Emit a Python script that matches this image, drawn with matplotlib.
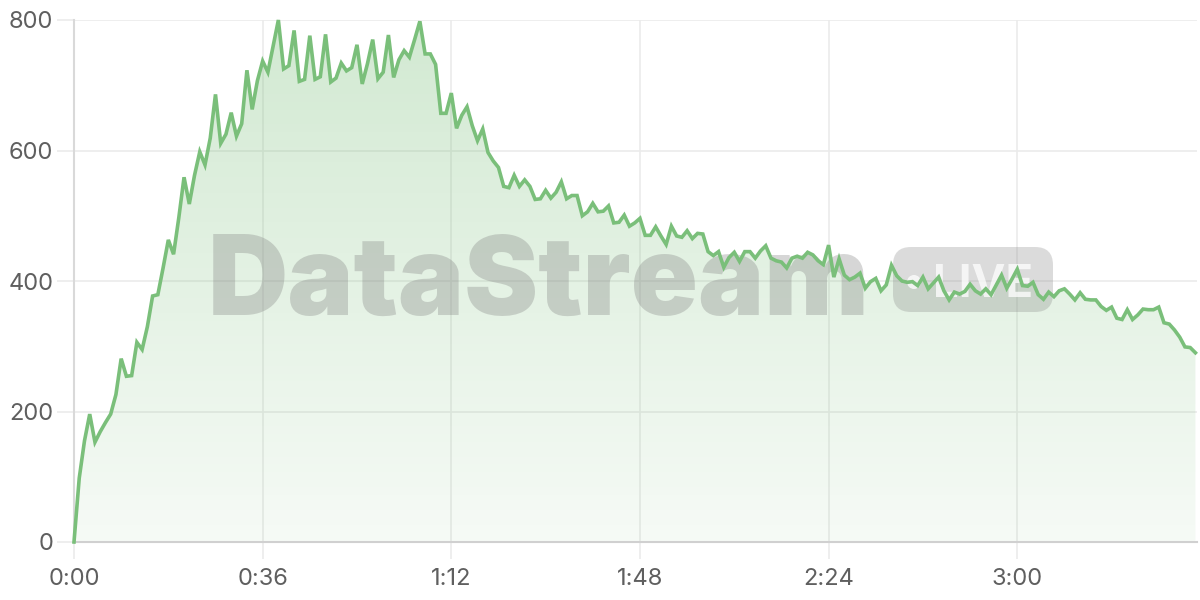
import numpy as np
import matplotlib
matplotlib.use('Agg')
import matplotlib.pyplot as plt
from matplotlib.patches import FancyBboxPatch, Circle
from matplotlib.transforms import IdentityTransform

# one value per second
values = [0, 98, 155, 196, 153, 169, 183, 196, 226, 281,
          254, 255, 306, 295, 330, 377, 379, 420, 463, 441,
          497, 559, 518, 562, 598, 578, 619, 686, 611, 625,
          658, 622, 641, 723, 663, 707, 737, 720, 760, 800,
          725, 730, 784, 706, 709, 776, 709, 713, 778, 705,
          711, 734, 722, 727, 762, 702, 733, 770, 710, 720,
          777, 712, 739, 753, 743, 770, 798, 748, 748, 732,
          657, 657, 688, 634, 654, 667, 638, 615, 633, 597,
          584, 574, 545, 543, 562, 545, 555, 545, 525, 526,
          539, 527, 536, 552, 526, 531, 531, 500, 506, 519,
          506, 507, 515, 489, 490, 501, 484, 489, 496, 470,
          470, 483, 469, 456, 484, 469, 467, 477, 465, 473,
          472, 445, 439, 445, 421, 436, 444, 430, 445, 445,
          435, 446, 454, 435, 431, 429, 420, 435, 438, 435,
          444, 440, 431, 425, 455, 406, 434, 409, 402, 406,
          412, 389, 399, 404, 385, 394, 424, 408, 400, 398,
          399, 393, 406, 388, 397, 406, 385, 371, 383, 380,
          384, 395, 385, 380, 388, 379, 394, 409, 389, 403,
          418, 393, 392, 398, 379, 372, 383, 376, 385, 388,
          380, 371, 382, 372, 371, 371, 361, 355, 360, 343,
          341, 356, 341, 348, 357, 356, 356, 360, 336, 334,
          325, 314, 299, 298, 290]
seconds = np.arange(len(values))
tick_secs = [0, 36, 72, 108, 144, 180]
tick_labels = ['0:00', '0:36', '1:12', '1:48', '2:24', '3:00']
y_ticks = [0, 200, 400, 600, 800]

green = (0.48, 0.75, 0.48)
grid_c = '#ebebeb'
x_max = 214.3

plt.rcParams['font.family'] = ['Inter', 'Roboto', 'DejaVu Sans']
fig = plt.figure(figsize=(12, 6), dpi=100)
ax = fig.add_axes([74/1200, 58/600, (1197-74)/1200, (542-20)/600])

ax.set_xlim(0, x_max)
ax.set_ylim(0, 800)

# gradient fill under the line
poly = ax.fill_between(seconds, values, 0, color='none', lw=0)
grad = np.zeros((256, 1, 4))
grad[:, 0, 0] = green[0]
grad[:, 0, 1] = green[1]
grad[:, 0, 2] = green[2]
grad[:, 0, 3] = np.linspace(0.07, 0.34, 256)
img = ax.imshow(grad, extent=[0, x_max, 0, 800], origin='lower', aspect='auto', zorder=1)
img.set_clip_path(poly.get_paths()[0], transform=ax.transData)

ax.plot(seconds, values, color=green, lw=2.6, zorder=5, solid_joinstyle='miter', clip_on=False)

# grid and axes
ax.set_xticks(tick_secs)
ax.set_xticklabels(tick_labels)
ax.set_yticks(y_ticks)
ax.grid(True, color=grid_c, lw=1.2, zorder=0)
ax.set_axisbelow(True)
for s in ['top', 'right']:
    ax.spines[s].set_visible(False)
ax.spines['left'].set_color('#d9d9d9')
ax.spines['bottom'].set_color('#d0d0d0')
ax.spines['left'].set_linewidth(1.5)
ax.spines['bottom'].set_linewidth(1.5)
ax.tick_params(axis='both', length=12, width=1.2, color=grid_c, labelcolor='#5f5f5f', labelsize=17)
ax.tick_params(axis='x', pad=7)
ax.tick_params(axis='y', pad=3)

# watermark (pixel coords, under the line)
px = IdentityTransform()
wm = ax.text(208, 285, 'DataStream', transform=px, fontsize=88, fontweight='black',
             color='#808080', alpha=0.32, ha='left', va='baseline', zorder=3)
fig.canvas.draw()
w = wm.get_window_extent().width
wm.set_fontsize(88 * 662 / w)

pill = FancyBboxPatch((893+18, 288+18), 160-36, 65-36, boxstyle='round,pad=18',
                      transform=px, facecolor='#808080', edgecolor='none',
                      alpha=0.28, zorder=3)
ax.add_patch(pill)
ax.add_patch(Circle((914, 318), 7, transform=px, facecolor='white',
                    edgecolor='none', alpha=0.75, zorder=4))
lv = ax.text(933, 303, 'LIVE', transform=px, fontsize=36, fontweight='bold',
             color='white', alpha=0.75, ha='left', va='baseline', zorder=4)
fig.canvas.draw()
lw_ = lv.get_window_extent().width
lv.set_fontsize(36 * 100 / lw_)

plt.savefig('out.png', dpi=100)
